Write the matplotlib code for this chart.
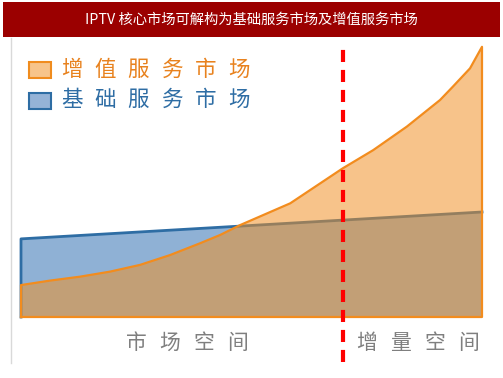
import numpy as np
import matplotlib
matplotlib.use('Agg')
import matplotlib.pyplot as plt
from matplotlib.patches import Rectangle

plt.rcParams['font.family'] = ['Noto Sans CJK SC', 'DejaVu Sans']

# данные (условные единицы: позиция 0..100, объём рынка 0..100)
title = "IPTV 核心市场可解构为基础服务市场及增值服务市场"
series_names = ["增值服务市场", "基础服务市场"]
basic_x = [0, 100]
basic_y = [27.9, 37.5]
value_x = [0, 6.3, 12.8, 19.3, 25.8, 32.3, 38.8, 43.2, 47.5, 58.4,
           69.8, 76.4, 83.7, 90.9, 93.7, 97.4, 100]
value_y = [11.4, 13.0, 14.4, 16.2, 18.6, 22.1, 26.3, 29.3, 32.8, 40.6,
           53.1, 59.6, 68.0, 77.5, 82.3, 88.8, 96.5]
split_x = 69.8
zone_labels = ["市场空间", "增量空间"]

W, H = 503, 378
fig = plt.figure(figsize=(W / 100, H / 100), dpi=100)


def fx(x):
    return x / W


def fy(y):
    return 1 - y / H


def spaced(x0, y, s, step, **kw):
    # рисуем символы по одному, чтобы получить разрядку
    for i, ch in enumerate(s):
        fig.text(fx(x0 + i * step), fy(y), ch, ha='center', va='center', **kw)


# заголовок
fig.patches.append(Rectangle((fx(3), fy(37)), fx(497), 35 / H, transform=fig.transFigure,
                             facecolor='#9B0000', edgecolor='none'))
fig.text(fx(251), fy(19.5), title, color='white', fontsize=10.3, ha='center', va='center')

# серая линия слева
fig.lines.append(plt.Line2D([fx(11), fx(11)], [fy(38), fy(363)], transform=fig.transFigure,
                            color='#D9D9D9', lw=1))

# основная область
ax = fig.add_axes([fx(21), fy(317), (482 - 21) / W, 280 / H])
ax.set_xlim(0, 100)
ax.set_ylim(0, 100)
ax.axis('off')

ax.fill_between(basic_x, 0, basic_y, facecolor='#8FB1D5', edgecolor='none', zorder=1)
ax.plot([basic_x[0]] + basic_x, [0] + basic_y, color='#2E6DA4', lw=2, zorder=2, clip_on=False)

vx = [value_x[0]] + value_x + [value_x[-1], value_x[0]]
vy = [0] + value_y + [0, 0]
ax.fill(vx, vy, facecolor='#F08F22', alpha=0.53, edgecolor='none', zorder=3)
ax.plot(vx, vy, color='#F28C1E', lw=1.6, zorder=4, clip_on=False)

ax.axvline(split_x, ymin=(317 - 362) / 280, ymax=(317 - 47) / 280, color='#FF0000',
           lw=3, linestyle=(0, (2.9, 1.9)), zorder=5, clip_on=False)

# легенда
fig.patches.append(Rectangle((fx(29), fy(78)), 22 / W, 16 / H, transform=fig.transFigure,
                             facecolor='#F7C48A', edgecolor='#F08C1E', lw=1.5))
fig.patches.append(Rectangle((fx(29), fy(109)), 22 / W, 16 / H, transform=fig.transFigure,
                             facecolor='#95B3D7', edgecolor='#2E6DA4', lw=1.5))
spaced(71.5, 70, series_names[0], 33.5, color='#E8821E', fontsize=15.5)
spaced(71.5, 100, series_names[1], 33.5, color='#2E6DA4', fontsize=15.5)

# подписи зон
spaced(136, 343, zone_labels[0], 33.7, color='#7F7F7F', fontsize=15)
spaced(367, 343, zone_labels[1], 33.7, color='#7F7F7F', fontsize=15)

fig.savefig('out.png', dpi=100)
